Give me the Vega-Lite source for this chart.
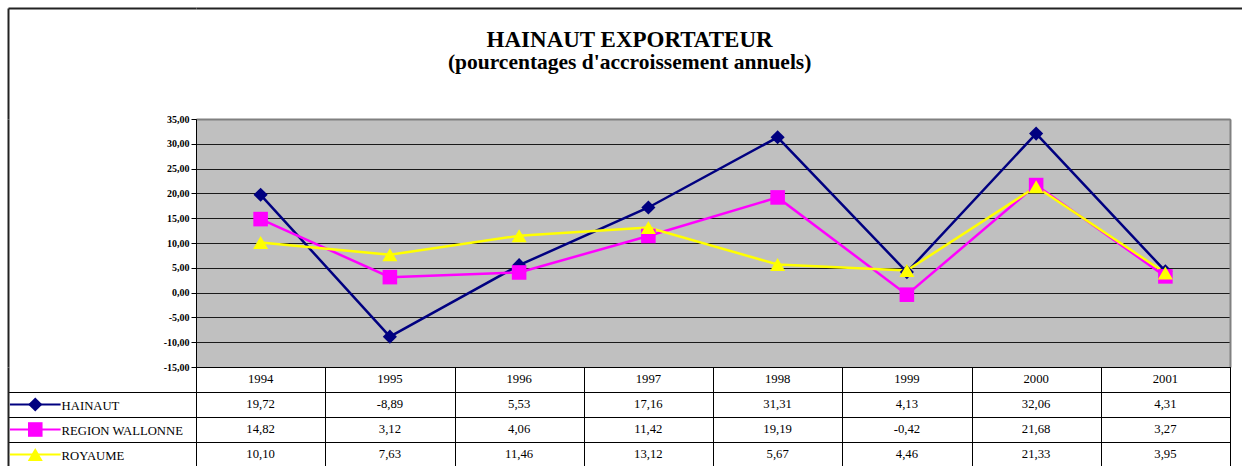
{
  "$schema": "https://vega.github.io/schema/vega-lite/v6.json",
  "background": "white",
  "padding": {"left": 5, "top": 8, "right": 0, "bottom": 0},
  "autosize": {"type": "pad"},
  "config": {
    "font": "Liberation Serif, Times New Roman, serif",
    "locale": {"number": {"decimal": ",", "thousands": ".", "grouping": [3], "currency": ["", " €"], "minus": "-"}},
    "view": {"stroke": null},
    "axis": {"title": null}
  },
  "title": {
    "text": "HAINAUT EXPORTATEUR",
    "subtitle": "(pourcentages d'accroissement annuels)",
    "font": "Liberation Serif, Times New Roman, serif",
    "fontSize": 23,
    "fontWeight": "bold",
    "color": "black",
    "subtitleFont": "Liberation Serif, Times New Roman, serif",
    "subtitleFontSize": 21.5,
    "subtitleFontWeight": "bold",
    "subtitleColor": "black",
    "subtitlePadding": 0,
    "anchor": "middle",
    "offset": -65,
    "dx": 5
  },
  "datasets": {
    "d": [
      {"year": "1994", "series": "HAINAUT", "value": 19.72},
      {"year": "1995", "series": "HAINAUT", "value": -8.89},
      {"year": "1996", "series": "HAINAUT", "value": 5.53},
      {"year": "1997", "series": "HAINAUT", "value": 17.16},
      {"year": "1998", "series": "HAINAUT", "value": 31.31},
      {"year": "1999", "series": "HAINAUT", "value": 4.13},
      {"year": "2000", "series": "HAINAUT", "value": 32.06},
      {"year": "2001", "series": "HAINAUT", "value": 4.31},
      {"year": "1994", "series": "REGION WALLONNE", "value": 14.82},
      {"year": "1995", "series": "REGION WALLONNE", "value": 3.12},
      {"year": "1996", "series": "REGION WALLONNE", "value": 4.06},
      {"year": "1997", "series": "REGION WALLONNE", "value": 11.42},
      {"year": "1998", "series": "REGION WALLONNE", "value": 19.19},
      {"year": "1999", "series": "REGION WALLONNE", "value": -0.42},
      {"year": "2000", "series": "REGION WALLONNE", "value": 21.68},
      {"year": "2001", "series": "REGION WALLONNE", "value": 3.27},
      {"year": "1994", "series": "ROYAUME", "value": 10.10},
      {"year": "1995", "series": "ROYAUME", "value": 7.63},
      {"year": "1996", "series": "ROYAUME", "value": 11.46},
      {"year": "1997", "series": "ROYAUME", "value": 13.12},
      {"year": "1998", "series": "ROYAUME", "value": 5.67},
      {"year": "1999", "series": "ROYAUME", "value": 4.46},
      {"year": "2000", "series": "ROYAUME", "value": 21.33},
      {"year": "2001", "series": "ROYAUME", "value": 3.95}
    ],
    "dummy": [{"v": 0}]
  },
  "columns": 2,
  "spacing": 0,
  "align": "each",
  "bounds": "flush",
  "concat": [
    {
      "width": 188,
      "height": 111,
      "data": {"name": "dummy"},
      "mark": {"type": "point", "opacity": 0},
      "encoding": {
        "x": {"field": "v", "type": "quantitative", "scale": {"domain": [0, 1]}, "axis": {"orient": "top", "labels": false, "ticks": false, "grid": false, "domainColor": "#222222", "domainWidth": 2}},
        "y": {"field": "v", "type": "quantitative", "scale": {"domain": [0, 1]}, "axis": {"orient": "left", "labels": false, "ticks": false, "grid": false, "domainColor": "#222222", "domainWidth": 2}}
      }
    },
    {
      "width": 1048,
      "height": 111,
      "data": {"name": "dummy"},
      "mark": {"type": "point", "opacity": 0},
      "encoding": {
        "x": {"field": "v", "type": "quantitative", "scale": {"domain": [0, 1]}, "axis": {"orient": "top", "labels": false, "ticks": false, "grid": false, "domainColor": "#222222", "domainWidth": 2}},
        "y": {"field": "v", "type": "quantitative", "scale": {"domain": [0, 1]}, "axis": null}
      }
    },
    {
      "width": 188,
      "height": 248,
      "data": {"name": "dummy"},
      "mark": {"type": "point", "opacity": 0},
      "encoding": {
        "x": {"field": "v", "type": "quantitative", "scale": {"domain": [0, 1]}, "axis": null},
        "y": {"field": "v", "type": "quantitative", "scale": {"domain": [0, 1]}, "axis": {"orient": "left", "labels": false, "ticks": false, "grid": false, "domainColor": "#222222", "domainWidth": 2}}
      }
    },
    {
      "width": 1034,
      "height": 248,
      "view": {"fill": "#C0C0C0", "stroke": null},
      "data": {"name": "d"},
      "layer": [
        {
          "mark": {"type": "line", "strokeWidth": 2.5},
          "encoding": {
            "x": {"field": "year", "type": "ordinal", "scale": {"type": "point", "padding": 0.5},
                  "axis": {"orient": "top", "labels": false, "ticks": false, "grid": false, "domainColor": "#808080", "domainWidth": 2}},
            "y": {"field": "value", "type": "quantitative", "scale": {"domain": [-15, 35], "nice": false, "zero": false},
                  "axis": {"orient": "left", "values": [-15, -10, -5, 0, 5, 10, 15, 20, 25, 30, 35], "format": ".2f",
                           "labelFont": "Liberation Serif, Times New Roman, serif", "labelFontSize": 10, "labelFontWeight": "bold", "labelColor": "black",
                           "labelPadding": 2, "tickSize": 5, "tickColor": "black", "domainColor": "black", "domainWidth": 1,
                           "grid": true, "gridColor": "#1a1a1a", "gridWidth": 1}},
            "color": {"field": "series", "type": "nominal", "legend": null,
                      "scale": {"domain": ["HAINAUT", "REGION WALLONNE", "ROYAUME"], "range": ["#000080", "#FF00FF", "#FFFF00"]}}
          }
        },
        {
          "mark": {"type": "point", "filled": true, "opacity": 1, "strokeWidth": 0},
          "encoding": {
            "x": {"field": "year", "type": "ordinal", "axis": null},
            "y": {"field": "value", "type": "quantitative",
                  "axis": {"orient": "right", "labels": false, "ticks": false, "grid": false, "domainColor": "#808080", "domainWidth": 2}},
            "color": {"field": "series", "type": "nominal", "legend": null},
            "shape": {"field": "series", "type": "nominal", "legend": null,
                      "scale": {"domain": ["HAINAUT", "REGION WALLONNE", "ROYAUME"], "range": ["diamond", "square", "triangle-up"]}},
            "size": {"field": "series", "type": "nominal", "legend": null,
                     "scale": {"domain": ["HAINAUT", "REGION WALLONNE", "ROYAUME"], "range": [200, 225, 225]}}
          }
        }
      ],
      "resolve": {"axis": {"x": "independent", "y": "independent"}}
    },
    {
      "width": 188,
      "height": 100,
      "data": {"name": "d"},
      "transform": [{"filter": "datum.year === '1994'"}],
      "encoding": {
        "y": {"field": "series", "type": "nominal",
              "scale": {"type": "band", "domain": ["year", "HAINAUT", "REGION WALLONNE", "ROYAUME"], "paddingInner": 0, "paddingOuter": 0},
              "axis": {"orient": "left", "labels": false, "ticks": false, "tickBand": "extent", "values": ["HAINAUT", "REGION WALLONNE", "ROYAUME"],
                       "grid": true, "gridColor": "black", "gridWidth": 1, "domainColor": "#222222", "domainWidth": 2}}
      },
      "layer": [
        {
          "mark": {"type": "rule", "strokeWidth": 2},
          "encoding": {
            "x": {"datum": 1, "type": "quantitative", "scale": {"domain": [0, 100], "nice": false}, "axis": null},
            "x2": {"datum": 28},
            "color": {"field": "series", "type": "nominal", "legend": null,
                      "scale": {"domain": ["HAINAUT", "REGION WALLONNE", "ROYAUME"], "range": ["#000080", "#FF00FF", "#FFFF00"]}}
          }
        },
        {
          "mark": {"type": "point", "filled": true, "opacity": 1, "strokeWidth": 0},
          "encoding": {
            "x": {"datum": 14.5, "type": "quantitative"},
            "color": {"field": "series", "type": "nominal", "legend": null},
            "shape": {"field": "series", "type": "nominal", "legend": null,
                      "scale": {"domain": ["HAINAUT", "REGION WALLONNE", "ROYAUME"], "range": ["diamond", "square", "triangle-up"]}},
            "size": {"field": "series", "type": "nominal", "legend": null,
                     "scale": {"domain": ["HAINAUT", "REGION WALLONNE", "ROYAUME"], "range": [90, 100, 110]}}
          }
        },
        {
          "mark": {"type": "text", "align": "left", "baseline": "middle", "font": "Liberation Serif, Times New Roman, serif", "fontSize": 12.7, "color": "black", "dy": 1},
          "encoding": {
            "x": {"datum": 28.5, "type": "quantitative"},
            "text": {"field": "series", "type": "nominal"}
          }
        }
      ]
    },
    {
      "width": 1034,
      "height": 100,
      "view": {"stroke": "black", "strokeWidth": 1},
      "data": {"name": "d"},
      "encoding": {
        "x": {"field": "year", "type": "ordinal",
              "scale": {"type": "band", "paddingInner": 0, "paddingOuter": 0},
              "axis": {"orient": "top", "labels": false, "ticks": false, "domain": false, "tickBand": "extent",
                       "grid": true, "gridColor": "black", "gridWidth": 1}},
        "y": {"field": "series", "type": "nominal",
              "scale": {"type": "band", "domain": ["year", "HAINAUT", "REGION WALLONNE", "ROYAUME"], "paddingInner": 0, "paddingOuter": 0},
              "axis": {"orient": "left", "labels": false, "ticks": false, "domain": false, "tickBand": "extent",
                       "grid": true, "gridColor": "black", "gridWidth": 1}}
      },
      "layer": [
        {
          "mark": {"type": "text", "font": "Liberation Serif, Times New Roman, serif", "fontSize": 12.7, "color": "black", "baseline": "middle", "dy": -1},
          "encoding": {
            "text": {"field": "value", "type": "quantitative", "format": ".2f"}
          }
        },
        {
          "transform": [{"filter": "datum.series === 'HAINAUT'"}],
          "mark": {"type": "text", "font": "Liberation Serif, Times New Roman, serif", "fontSize": 12.7, "color": "black", "baseline": "middle", "dy": -1},
          "encoding": {
            "y": {"datum": "year"},
            "text": {"field": "year", "type": "nominal"}
          }
        }
      ]
    }
  ]
}
